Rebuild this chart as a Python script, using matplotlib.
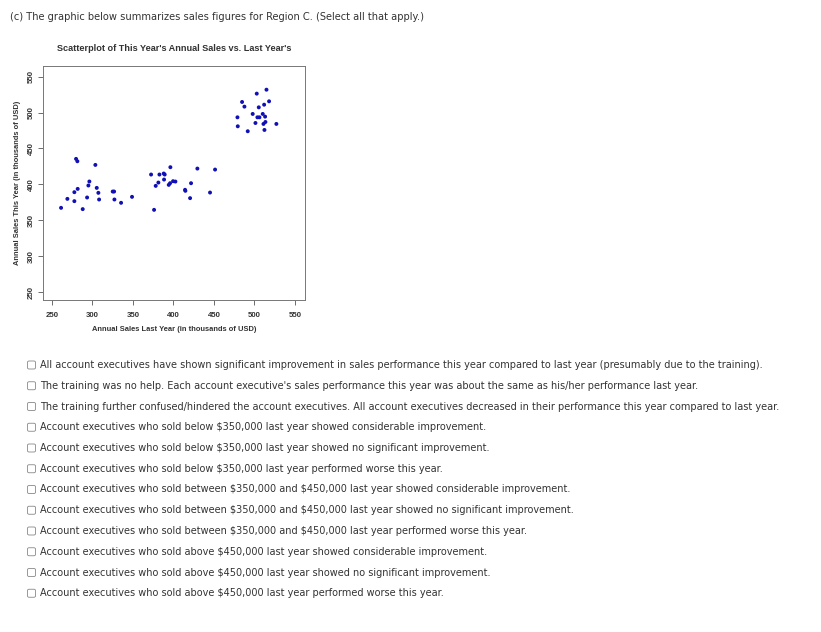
import numpy as np
import matplotlib.pyplot as plt
from matplotlib.patches import FancyBboxPatch

# sales in thousands of USD
last_low = [261.5, 269.3, 277.9, 277.9, 280.0, 281.6, 282.0, 288.2, 293.6, 295.2,
            296.4, 303.8, 305.5, 307.5, 308.4, 325.2, 326.9, 327.3, 335.5, 349.0]
this_low = [367.3, 379.8, 389.1, 376.6, 435.5, 432.2, 393.7, 365.5, 381.7, 398.4,
            404.0, 427.1, 395.1, 388.2, 378.9, 390.0, 390.0, 378.9, 374.3, 382.6]

last_mid = [372.5, 376.2, 378.2, 381.5, 382.8, 388.1, 389.3, 388.5, 396.3, 394.3,
            395.9, 399.6, 402.5, 414.4, 414.8, 420.6, 421.8, 429.6, 445.2, 451.4]
this_mid = [413.7, 364.5, 397.9, 402.5, 413.7, 415.1, 413.7, 406.7, 423.9, 399.3,
            401.6, 404.4, 403.9, 392.4, 391.0, 380.8, 401.6, 422.0, 388.6, 420.6]

last_high = [479.0, 479.4, 484.7, 487.6, 491.7, 497.8, 502.8, 501.2, 503.6, 506.1,
             505.3, 510.2, 511.1, 511.9, 512.3, 513.1, 513.5, 514.8, 518.0, 527.0]
this_high = [493.4, 480.9, 514.8, 508.3, 474.0, 498.1, 526.4, 485.5, 493.4, 493.4,
             507.3, 498.1, 484.2, 511.0, 475.8, 494.4, 486.9, 531.9, 515.7, 484.2]

ticks = [250, 300, 350, 400, 450, 500, 550]

question = "(c) The graphic below summarizes sales figures for Region C. (Select all that apply.)"
options = [
    "All account executives have shown significant improvement in sales performance this year compared to last year (presumably due to the training).",
    "The training was no help. Each account executive's sales performance this year was about the same as his/her performance last year.",
    "The training further confused/hindered the account executives. All account executives decreased in their performance this year compared to last year.",
    "Account executives who sold below $350,000 last year showed considerable improvement.",
    "Account executives who sold below $350,000 last year showed no significant improvement.",
    "Account executives who sold below $350,000 last year performed worse this year.",
    "Account executives who sold between $350,000 and $450,000 last year showed considerable improvement.",
    "Account executives who sold between $350,000 and $450,000 last year showed no significant improvement.",
    "Account executives who sold between $350,000 and $450,000 last year performed worse this year.",
    "Account executives who sold above $450,000 last year showed considerable improvement.",
    "Account executives who sold above $450,000 last year showed no significant improvement.",
    "Account executives who sold above $450,000 last year performed worse this year.",
]

W, H = 821, 632
fig = plt.figure(figsize=(W / 100, H / 100), dpi=100)

def px(x, y):
    return x / W, 1 - y / H

# question text
fig.text(*px(10, 17), question, fontsize=7.1, color='#333333',
         family='DejaVu Sans', va='center', ha='left', parse_math=False)

# the R style scatterplot
ax = fig.add_axes([43.3 / W, 1 - 300 / H, (305 - 43.3) / W, (300 - 66) / H])
xs = last_low + last_mid + last_high
ys = this_low + this_mid + this_high
ax.scatter(xs, ys, s=8, color='#1010b4', edgecolors='none', zorder=3)
ax.set_xlim(239.6, 562.3)
ax.set_ylim(238.9, 564.9)
ax.set_xticks(ticks)
ax.set_yticks(ticks)
rfont = dict(family='Liberation Sans', fontweight='bold', color='#333333')
ax.set_xticklabels([str(t) for t in ticks], fontsize=5.6, **rfont)
ax.set_yticklabels([str(t) for t in ticks], fontsize=5.6, rotation=90, va='center', **rfont)
ax.tick_params(length=3.5, width=0.6, color='#555555')
ax.tick_params(axis='x', pad=5)
ax.tick_params(axis='y', pad=2.5)
for s in ax.spines.values():
    s.set_color('#777777')
    s.set_linewidth(0.7)
ax.set_xlabel("Annual Sales Last Year (in thousands of USD)", fontsize=5.45, labelpad=5, **rfont)
ax.set_ylabel("Annual Sales This Year (in thousands of USD)", fontsize=5.45, labelpad=5, **rfont)
ax.set_title("Scatterplot of This Year's Annual Sales vs. Last Year's", fontsize=6.6, pad=11, **rfont)

# checkbox options
y0 = 365.0
step = 20.75
for i, opt in enumerate(options):
    y = y0 + i * step
    bx, by = px(27.5, y + 4)
    box = FancyBboxPatch((bx, by), 8 / W, 8 / H, boxstyle="round,pad=0,rounding_size=0.002",
                         transform=fig.transFigure, facecolor='white',
                         edgecolor='#888888', linewidth=0.6)
    fig.patches.append(box)
    fig.text(*px(40, y), opt, fontsize=7.05, color='#333333',
             family='DejaVu Sans', va='center', ha='left', parse_math=False)

fig.savefig('out.png', dpi=100)
